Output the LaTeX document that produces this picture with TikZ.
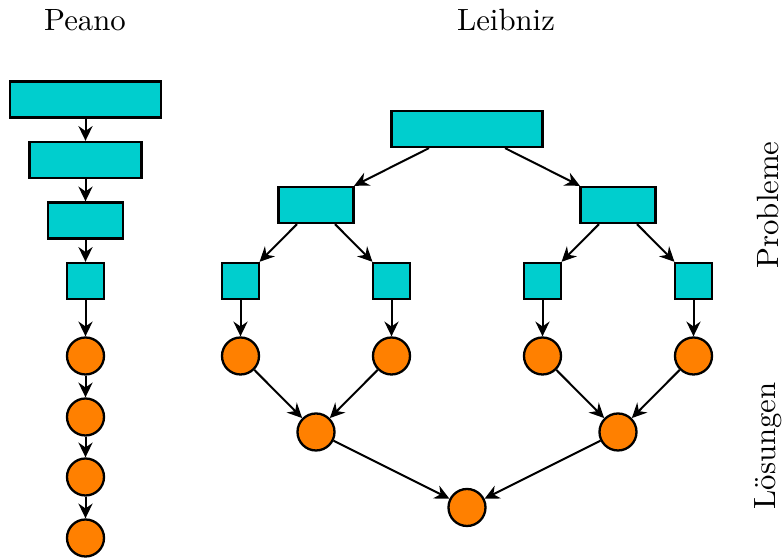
\documentclass[tikz,border=0pt]{standalone}
\usepackage{tikz}
\usetikzlibrary{arrows.meta}
\newcommand{\pxu}{0.325pt}
\definecolor{probcyan}{RGB}{0,206,206}
\definecolor{solorange}{RGB}{255,128,0}
\tikzset{
  flowarrow/.style={-{Stealth[length=4.8pt, width=4.6pt, inset=1.6pt]}, line width=0.65pt},
  probbox/.style={draw, line width=0.75pt, fill=probcyan, inner sep=0pt, minimum height=36*\pxu},
  solnode/.style={draw, line width=0.75pt, circle, fill=solorange, inner sep=0pt, minimum size=37*\pxu},
  heading/.style={inner sep=0pt}
}

\begin{document}
\begin{tikzpicture}[x=\pxu, y=-\pxu]
  \useasboundingbox (0,0) rectangle (782,559);

  % headings
  \node[heading] (peano) at (85,20) {Peano};
  \node[heading] (leibniz) at (506,20) {Leibniz};
  \node[heading, rotate=90] (probleme) at (768,205) {Probleme};
  \node[heading, rotate=90] (loesungen) at (768,446) {L\"osungen};

  % Peano: one chain
  \node[probbox, minimum width=151*\pxu] (p1) at (85.5,99.5) {};
  \node[probbox, minimum width=112*\pxu] (p2) at (85.5,160) {};
  \node[probbox, minimum width=75*\pxu] (p3) at (85.5,220.5) {};
  \node[probbox, minimum width=37*\pxu] (p4) at (85.5,281) {};
  \node[solnode] (s1) at (85.5,356) {};
  \node[solnode] (s2) at (85.5,417) {};
  \node[solnode] (s3) at (85.5,477) {};
  \node[solnode] (s4) at (85.5,538) {};
  \draw[flowarrow] (p1) -- (p2);
  \draw[flowarrow] (p2) -- (p3);
  \draw[flowarrow] (p3) -- (p4);
  \draw[flowarrow] (p4) -- (s1);
  \draw[flowarrow] (s1) -- (s2);
  \draw[flowarrow] (s2) -- (s3);
  \draw[flowarrow] (s3) -- (s4);

  % Leibniz: split the problem, then merge the solutions
  \node[probbox, minimum width=151*\pxu] (l0) at (467,129) {};
  \node[probbox, minimum width=75*\pxu] (la) at (316,205) {};
  \node[probbox, minimum width=75*\pxu] (lb) at (618,205) {};
  \node[probbox, minimum width=37*\pxu] (laa) at (240.5,281) {};
  \node[probbox, minimum width=37*\pxu] (lab) at (391.5,281) {};
  \node[probbox, minimum width=37*\pxu] (lba) at (542.5,281) {};
  \node[probbox, minimum width=37*\pxu] (lbb) at (693.5,281) {};
  \node[solnode] (raa) at (240.5,356) {};
  \node[solnode] (rab) at (391.5,356) {};
  \node[solnode] (rba) at (542.5,356) {};
  \node[solnode] (rbb) at (693.5,356) {};
  \node[solnode] (ra) at (316,432) {};
  \node[solnode] (rb) at (618,432) {};
  \node[solnode] (r0) at (467,507.5) {};
  \draw[flowarrow] (l0) -- (la);
  \draw[flowarrow] (l0) -- (lb);
  \draw[flowarrow] (la) -- (laa);
  \draw[flowarrow] (la) -- (lab);
  \draw[flowarrow] (lb) -- (lba);
  \draw[flowarrow] (lb) -- (lbb);
  \draw[flowarrow] (laa) -- (raa);
  \draw[flowarrow] (lab) -- (rab);
  \draw[flowarrow] (lba) -- (rba);
  \draw[flowarrow] (lbb) -- (rbb);
  \draw[flowarrow] (raa) -- (ra);
  \draw[flowarrow] (rab) -- (ra);
  \draw[flowarrow] (rba) -- (rb);
  \draw[flowarrow] (rbb) -- (rb);
  \draw[flowarrow] (ra) -- (r0);
  \draw[flowarrow] (rb) -- (r0);
\end{tikzpicture}
\end{document}
